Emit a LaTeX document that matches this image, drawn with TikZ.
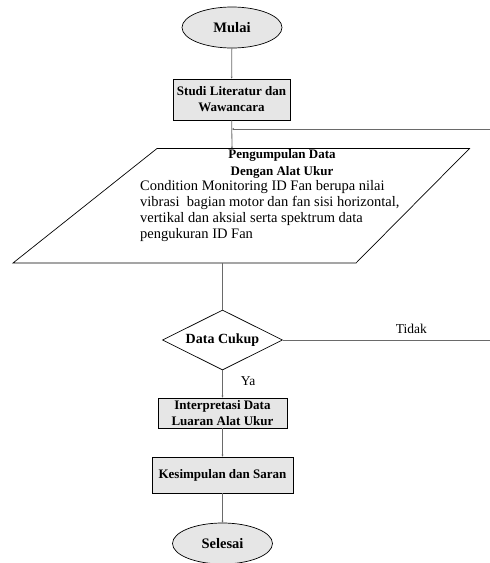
\documentclass[tikz,border=0pt]{standalone}
\usepackage{fontspec}
\setmainfont{Liberation Serif}
\usetikzlibrary{shapes.geometric,arrows.meta}
\definecolor{boxfill}{HTML}{E6E6E6}
\definecolor{linegray}{HTML}{6A6A6A}
\tikzset{
  term/.style={ellipse,draw=black,fill=boxfill,line width=0.7pt,minimum width=100pt,minimum height=41pt,inner sep=0pt,font=\fontsize{14.5}{16}\selectfont\bfseries},
  procbox/.style={rectangle,draw=black,fill=boxfill,line width=0.9pt,inner sep=0pt,align=center,font=\fontsize{13}{16}\selectfont\bfseries},
  decide/.style={diamond,draw=black,line width=0.7pt,minimum width=120pt,minimum height=60pt,aspect=2,inner sep=0pt,font=\fontsize{14}{16}\selectfont\bfseries},
  conn/.style={draw=linegray,line width=0.8pt,-{Stealth[length=2pt,width=2pt]}},
  plain/.style={draw=linegray,line width=0.8pt},
  lbl/.style={inner sep=0pt,font=\fontsize{13.5}{16}\selectfont},
}
\begin{document}
\begin{tikzpicture}[x=1pt,y=-1pt]
\useasboundingbox (0,0) rectangle (490,563);
% nodes
\node[term] (mulai) at (232,27.5) {Mulai};
\node[procbox,minimum width=117pt,minimum height=41pt] (studi) at (231.5,99.5) {Studi Literatur dan\\Wawancara};
% parallelogram
\coordinate (ptl) at (157,148.5);
\coordinate (ptr) at (469.5,148.5);
\coordinate (pbr) at (356,263);
\coordinate (pbl) at (13,263);
\coordinate (ptop) at (232,148.5);
\coordinate (pbot) at (222.5,263);
\draw[line width=0.7pt] (ptl) -- (ptr) -- (pbr) -- (pbl) -- cycle;
\node[inner sep=0pt,align=center,font=\fontsize{13}{17}\selectfont\bfseries] (ptitle) at (282,163.5) {Pengumpulan Data\\Dengan Alat Ukur};
\node[inner sep=0pt,align=left,anchor=west,font=\fontsize{14.5}{16}\selectfont] (pbody) at (140,211.5) {Condition Monitoring ID Fan berupa nilai\\vibrasi\ \ bagian motor dan fan sisi horizontal,\\vertikal dan aksial serta spektrum data\\pengukuran ID Fan};
\node[decide] (cukup) at (222.5,340) {Data Cukup};
\node[procbox,minimum width=129pt,minimum height=30pt] (interp) at (222.5,413) {Interpretasi Data\\Luaran Alat Ukur};
\node[procbox,minimum width=141pt,minimum height=36pt] (kesim) at (222.5,475) {Kesimpulan dan Saran};
\node[term] (selesai) at (222.5,543.5) {Selesai};
% feedback ends
\coordinate (fbin) at (232,129);
\coordinate (fbout) at (490,129);
\coordinate (tdkout) at (490,340);
% connectors
\draw[conn] (mulai) -- (studi);
\draw[conn] (studi) -- (ptop);
\draw[conn] (fbout) -- (fbin);
\draw[plain] (pbot) -- (cukup);
\draw[plain] (cukup.east) -- (tdkout) node[lbl,pos=0.62,above=6pt] {Tidak};
\draw[conn] (cukup) -- (interp) node[lbl,pos=0.4,right=18pt] {Ya};
\draw[conn] (interp) -- (kesim);
\draw[conn] (kesim) -- (selesai);
\end{tikzpicture}
\end{document}
